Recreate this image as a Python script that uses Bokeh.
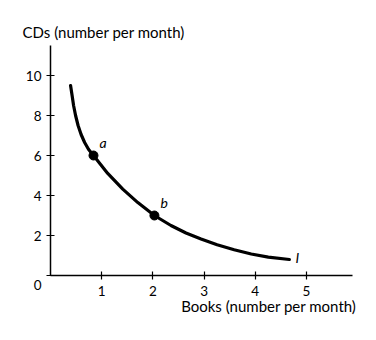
from bokeh.plotting import figure
from bokeh.models import Label, Range1d, FixedTicker, ColumnDataSource, Title
from bokeh.embed import file_html
from bokeh.resources import INLINE

# Indifference curve I
books = [0.392, 0.422, 0.451, 0.490, 0.539, 0.598, 0.667, 0.745, 0.84, 1.118, 1.412, 1.706,
         2.03, 2.353, 2.647, 2.941, 3.255, 3.588, 3.922, 4.255, 4.667]
cds = [9.50, 9.00, 8.50, 8.00, 7.50, 7.05, 6.65, 6.30, 6.00, 5.105, 4.32, 3.645,
       3.00, 2.50, 2.125, 1.825, 1.535, 1.285, 1.075, 0.92, 0.80]

point_x = [0.84, 2.03]
point_y = [6.0, 3.0]
point_names = ["a", "b"]

x_ticks = [1, 2, 3, 4, 5]
y_ticks = [0, 2, 4, 6, 8, 10]
y_tick_labels = {0: "\n0"}

FONT = "Lato"
W, H = 376, 340

p = figure(width=W, height=H, output_backend="svg", toolbar_location=None,
           x_range=Range1d(0, 5.9), y_range=Range1d(0, 11.5),
           min_border_left=50, min_border_right=24, min_border_top=45, min_border_bottom=65)
p.grid.visible = False
p.outline_line_color = None
p.background_fill_color = "white"
p.border_fill_color = "white"

for ax, ticks in ((p.xaxis[0], x_ticks), (p.yaxis[0], y_ticks)):
    ax.ticker = FixedTicker(ticks=ticks)
    ax.minor_tick_line_color = None
    ax.major_tick_in = 4
    ax.major_tick_out = 4
    ax.axis_line_width = 1.5
    ax.major_tick_line_width = 1.2
    ax.axis_line_color = "black"
    ax.major_tick_line_color = "black"
    ax.major_label_text_font = FONT
    ax.major_label_text_font_size = "13.5px"
    ax.major_label_text_color = "black"
p.xaxis.major_label_standoff = 6
p.yaxis.major_label_standoff = 5
p.yaxis.major_label_overrides = y_tick_labels

p.line(books, cds, line_width=3.2, line_color="black", line_cap="round", line_join="round")
src = ColumnDataSource(dict(x=point_x, y=point_y, n=point_names))
p.scatter("x", "y", source=src, size=9, color="black")

for x, y, n in zip(point_x, point_y, point_names):
    p.add_layout(Label(x=x, y=y, text=n, x_offset=6, y_offset=5, text_font=FONT,
                       text_color="black", text_font_style="italic", text_font_size="14px"))
p.add_layout(Label(x=books[-1], y=cds[-1], text="I", x_offset=6, y_offset=-6, text_font=FONT,
                   text_color="black", text_font_style="italic", text_font_size="14px"))

p.title.text = "CDs (number per month)"
p.title.align = "left"
p.title.offset = -28
p.title.standoff = 10
p.title.text_font = FONT
p.title.text_font_size = "15px"
p.title.text_font_style = "normal"
p.title.text_color = "black"

p.add_layout(Title(text="Books (number per month)", align="right", offset=-4, standoff=-7,
                   text_font=FONT, text_font_size="15px", text_font_style="normal",
                   text_color="black"), "below")

open("out.html", "w").write(file_html(p, INLINE))
